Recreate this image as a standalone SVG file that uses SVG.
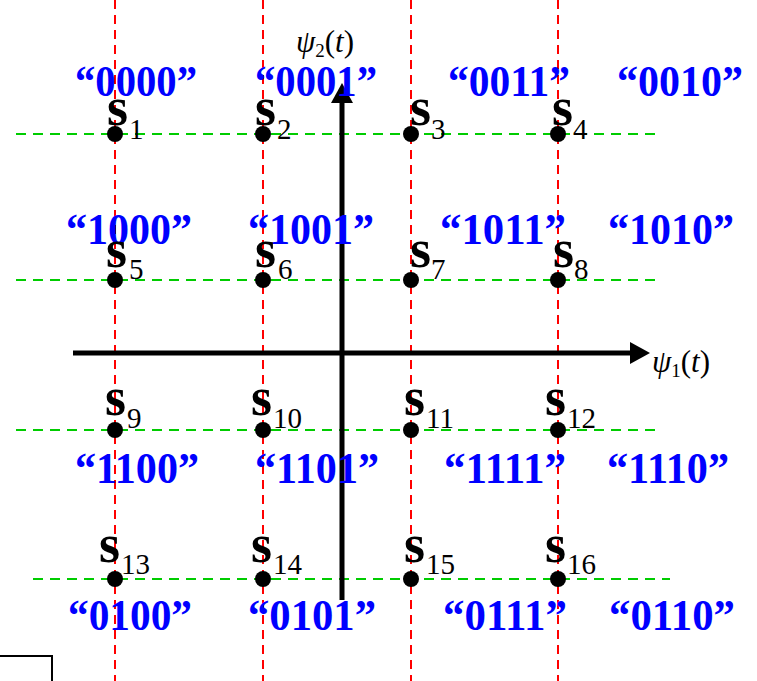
<svg xmlns="http://www.w3.org/2000/svg" width="757" height="681" viewBox="0 0 757 681">
<style>
.red{stroke:#ff0000;stroke-width:2;stroke-dasharray:9,6;fill:none}
.grn{stroke:#00cc00;stroke-width:2;stroke-dasharray:10,7;fill:none}
.ax{stroke:#000;stroke-width:5;fill:none}
.dot{fill:#000}
.code{font-family:"Liberation Serif",serif;font-weight:bold;font-size:45px;fill:#0000ff;text-anchor:middle}
.s{font-family:"Liberation Serif",serif;font-weight:bold;font-size:54px;fill:#000}
.sub{font-family:"Liberation Serif",serif;font-weight:normal;font-size:29px;fill:#000}
.psi{font-family:"Liberation Serif",serif;font-size:31px;fill:#000}
.it{font-style:italic}
.psub{font-size:19px}
</style>
<rect width="757" height="681" fill="#fff"/>
<g id="grid">
<line class="red" x1="115" y1="0" x2="115" y2="681"/>
<line class="red" x1="263" y1="0" x2="263" y2="681"/>
<line class="red" x1="411" y1="0" x2="411" y2="681"/>
<line class="red" x1="558" y1="0" x2="558" y2="681"/>
<line class="grn" x1="16" y1="134" x2="656" y2="134"/>
<line class="grn" x1="16" y1="280" x2="656" y2="280"/>
<line class="grn" x1="16" y1="430" x2="656" y2="430"/>
<line class="grn" x1="33" y1="579" x2="670" y2="579"/>
</g>
<g id="frame"><polyline points="0,656 52,656 52,681" fill="none" stroke="#000" stroke-width="2"/></g>
<g id="axes">
<line class="ax" x1="342" y1="600" x2="342" y2="100"/>
<polygon points="342,83 331,103 353,103" fill="#000"/>
<line class="ax" x1="73" y1="353" x2="632" y2="353"/>
<polygon points="650,353 630,342 630,364" fill="#000"/>
<text class="psi" x="296" y="52"><tspan class="it">ψ</tspan><tspan class="psub" dy="5">2</tspan><tspan dy="-5">(</tspan><tspan class="it">t</tspan>)</text>
<text class="psi" x="652" y="372"><tspan class="it">ψ</tspan><tspan class="psub" dy="5">1</tspan><tspan dy="-5">(</tspan><tspan class="it">t</tspan>)</text>
</g>
<g id="codes">
<text class="code" x="136" y="96" textLength="122" lengthAdjust="spacingAndGlyphs">“0000”</text>
<text class="code" x="316" y="96" textLength="122" lengthAdjust="spacingAndGlyphs">“0001”</text>
<text class="code" x="509" y="96" textLength="122" lengthAdjust="spacingAndGlyphs">“0011”</text>
<text class="code" x="680" y="96" textLength="126" lengthAdjust="spacingAndGlyphs">“0010”</text>
<text class="code" x="129" y="244" textLength="126" lengthAdjust="spacingAndGlyphs">“1000”</text>
<text class="code" x="311" y="244" textLength="126" lengthAdjust="spacingAndGlyphs">“1001”</text>
<text class="code" x="503" y="244" textLength="126" lengthAdjust="spacingAndGlyphs">“1011”</text>
<text class="code" x="671" y="244" textLength="126" lengthAdjust="spacingAndGlyphs">“1010”</text>
<text class="code" x="137" y="483" textLength="124" lengthAdjust="spacingAndGlyphs">“1100”</text>
<text class="code" x="317" y="483" textLength="124" lengthAdjust="spacingAndGlyphs">“1101”</text>
<text class="code" x="505" y="483" textLength="122" lengthAdjust="spacingAndGlyphs">“1111”</text>
<text class="code" x="668" y="483" textLength="122" lengthAdjust="spacingAndGlyphs">“1110”</text>
<text class="code" x="130" y="630" textLength="124" lengthAdjust="spacingAndGlyphs">“0100”</text>
<text class="code" x="312" y="630" textLength="128" lengthAdjust="spacingAndGlyphs">“0101”</text>
<text class="code" x="505" y="630" textLength="124" lengthAdjust="spacingAndGlyphs">“0111”</text>
<text class="code" x="672" y="630" textLength="126" lengthAdjust="spacingAndGlyphs">“0110”</text>
</g>
<g id="s1"><circle class="dot" cx="115" cy="134" r="8"/><text class="s" x="107" y="125">s</text><text class="sub" x="129" y="139">1</text></g>
<g id="s2"><circle class="dot" cx="263" cy="134" r="8"/><text class="s" x="255" y="125">s</text><text class="sub" x="277" y="139">2</text></g>
<g id="s3"><circle class="dot" cx="411" cy="134" r="8"/><text class="s" x="410" y="125">s</text><text class="sub" x="431" y="139">3</text></g>
<g id="s4"><circle class="dot" cx="558" cy="134" r="8"/><text class="s" x="552" y="125">s</text><text class="sub" x="573" y="139">4</text></g>
<g id="s5"><circle class="dot" cx="115" cy="280" r="8"/><text class="s" x="106" y="267">s</text><text class="sub" x="129" y="279">5</text></g>
<g id="s6"><circle class="dot" cx="263" cy="280" r="8"/><text class="s" x="255" y="267">s</text><text class="sub" x="278" y="279">6</text></g>
<g id="s7"><circle class="dot" cx="411" cy="280" r="8"/><text class="s" x="410" y="267">s</text><text class="sub" x="431" y="279">7</text></g>
<g id="s8"><circle class="dot" cx="558" cy="280" r="8"/><text class="s" x="553" y="267">s</text><text class="sub" x="574" y="279">8</text></g>
<g id="s9"><circle class="dot" cx="115" cy="430" r="8"/><text class="s" x="105" y="415">s</text><text class="sub" x="127" y="428">9</text></g>
<g id="s10"><circle class="dot" cx="263" cy="430" r="8"/><text class="s" x="251" y="415">s</text><text class="sub" x="273" y="428">10</text></g>
<g id="s11"><circle class="dot" cx="411" cy="430" r="8"/><text class="s" x="404" y="415">s</text><text class="sub" x="426" y="428">11</text></g>
<g id="s12"><circle class="dot" cx="558" cy="430" r="8"/><text class="s" x="545" y="415">s</text><text class="sub" x="567" y="428">12</text></g>
<g id="s13"><circle class="dot" cx="115" cy="579" r="8"/><text class="s" x="99" y="562">s</text><text class="sub" x="121" y="574">13</text></g>
<g id="s14"><circle class="dot" cx="263" cy="579" r="8"/><text class="s" x="251" y="562">s</text><text class="sub" x="273" y="574">14</text></g>
<g id="s15"><circle class="dot" cx="411" cy="579" r="8"/><text class="s" x="404" y="562">s</text><text class="sub" x="426" y="574">15</text></g>
<g id="s16"><circle class="dot" cx="558" cy="579" r="8"/><text class="s" x="545" y="562">s</text><text class="sub" x="567" y="574">16</text></g>
</svg>
